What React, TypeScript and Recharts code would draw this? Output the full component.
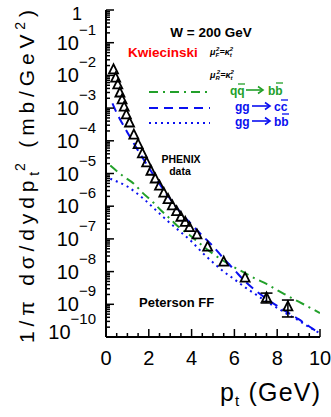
import React from 'react';
import { ComposedChart, Line, Scatter, ErrorBar, XAxis, YAxis } from 'recharts';

const FONT = '"Liberation Sans", Arial, Helvetica, sans-serif';
const GREEN = '#22a02a';
const BLUE = '#0a10f0';
const RED = '#ff0000';

// PHENIX non-photonic electrons (open triangles)
const phenixPt = [0.35, 0.45, 0.55, 0.65, 0.75, 0.85, 0.95, 1.1, 1.3, 1.5, 1.7, 1.9, 2.1, 2.3, 2.5, 2.7, 2.9, 3.1, 3.3, 3.5, 3.7, 3.9, 4.25, 4.75, 5.5, 6.5, 7.5, 8.5];
const phenixVal = [1.48e-2, 8.3e-3, 5.1e-3, 2.9e-3, 1.78e-3, 1.07e-3, 6.2e-4, 3.5e-4, 1.5e-4, 7.6e-5, 4.0e-5, 2.1e-5, 1.17e-5, 6.8e-6, 4.1e-6, 2.5e-6, 1.6e-6, 1.02e-6, 6.8e-7, 4.6e-7, 3.2e-7, 2.2e-7, 1.32e-7, 5.6e-8, 1.95e-8, 6.3e-9, 1.55e-9, 8.3e-10];
const phenixErrLo: (number | null)[] = [null, null, null, null, null, null, null, null, null, null, null, null, null, null, null, null, null, null, null, null, null, null, null, null, null, null, 0.45e-9, 0.42e-9];
const phenixErrHi: (number | null)[] = [null, null, null, null, null, null, null, null, null, null, null, null, null, null, null, null, null, null, null, null, null, null, null, null, null, null, 0.65e-9, 0.52e-9];

// q qbar -> b bbar (green dash-dot)
const qqbbPt = [0.2, 0.8, 1.3, 1.7, 2.2, 2.6, 3.0, 3.4, 3.9, 4.4, 5.0, 5.8, 6.4, 7.0, 7.5, 8.0, 8.5, 9.0, 9.5, 10];
const qqbbVal = [1.75e-5, 8.3e-6, 4.9e-6, 2.6e-6, 1.32e-6, 7.1e-7, 4.1e-7, 2.3e-7, 1.32e-7, 7.1e-8, 3.5e-8, 1.6e-8, 9.8e-9, 6.0e-9, 4.2e-9, 2.7e-9, 1.8e-9, 1.2e-9, 8.1e-10, 5.4e-10];

// g g -> c cbar (blue dashed)
const ggccPt = [0.3, 0.5, 0.75, 1.0, 1.25, 1.5, 1.75, 2.0, 2.5, 3.0, 3.5, 4.0, 4.5, 5.0, 5.5, 6.0, 6.5, 7.0, 7.5, 8.0, 8.5, 9.0, 9.5, 10];
const ggccVal = [1.4e-3, 7.1e-4, 3.5e-4, 1.8e-4, 9.5e-5, 5.0e-5, 2.75e-5, 1.5e-5, 4.8e-6, 1.66e-6, 6.3e-7, 2.75e-7, 1.26e-7, 6.0e-8, 2.5e-8, 1.12e-8, 5.0e-9, 2.6e-9, 1.48e-9, 8.9e-10, 5.6e-10, 3.5e-10, 2.1e-10, 1.26e-10];

// g g -> b bbar (blue dotted)
const ggbbPt = [0.2, 0.6, 1.0, 1.4, 1.8, 2.2, 2.6, 3.0, 3.5, 4.0, 4.5, 5.0, 5.5, 6.0, 6.5, 7.0, 7.5, 8.0, 8.5, 9.0, 9.5, 10];
const ggbbVal = [6.9e-6, 5.4e-6, 4.0e-6, 2.6e-6, 1.6e-6, 9.1e-7, 5.2e-7, 3.0e-7, 1.6e-7, 8.3e-8, 3.8e-8, 1.9e-8, 1.0e-8, 5.8e-9, 3.3e-9, 2.0e-9, 1.2e-9, 7.8e-10, 4.9e-10, 3.2e-10, 2.0e-10, 1.3e-10];

const xTickValues = [0, 0.5, 1, 1.5, 2, 2.5, 3, 3.5, 4, 4.5, 5, 5.5, 6, 6.5, 7, 7.5, 8, 8.5, 9, 9.5, 10];
const xLabels = [0, 2, 4, 6, 8, 10];
const decades = [-10, -9, -8, -7, -6, -5, -4, -3, -2, -1, 0];
const minorMult = [2, 3, 4, 5, 6, 7, 8, 9];

const yTicks: number[] = [];
decades.forEach((d) => {
  yTicks.push(Math.pow(10, d));
  if (d < 0) minorMult.forEach((m) => yTicks.push(m * Math.pow(10, d)));
});

const rows = (xs: number[], ys: number[]) => xs.map((pt, i) => ({ pt, val: ys[i] }));
const phenixRows = phenixPt.map((pt, i) => ({
  pt,
  val: phenixVal[i],
  err: phenixErrLo[i] != null ? [phenixErrLo[i], phenixErrHi[i]] : undefined,
}));

const isDecade = (v: number) => {
  const l = Math.log10(v);
  return Math.abs(l - Math.round(l)) < 1e-6;
};

const BottomTick = (props: any) => {
  const { x, y, payload } = props;
  const v = payload.value;
  const big = xLabels.includes(v);
  return (
    <g>
      <line x1={x} x2={x} y1={y} y2={y - (big ? 8 : 4)} stroke="#000" strokeWidth={1.5} />
      {big && (
        <text x={x} y={y + 28} textAnchor="middle" fontSize={20} fontFamily={FONT} fill="#000">
          {v}
        </text>
      )}
    </g>
  );
};

const TopTick = (props: any) => {
  const { x, y, payload } = props;
  const big = xLabels.includes(payload.value);
  return <line x1={x} x2={x} y1={y} y2={y + (big ? 8 : 4)} stroke="#000" strokeWidth={1.5} />;
};

const LeftTick = (props: any) => {
  const { x, y, payload } = props;
  const v = payload.value;
  const major = isDecade(v);
  const e = Math.round(Math.log10(v));
  let label = null;
  if (major && e === 0) {
    label = (
      <text x={x - 24} y={y + 10} textAnchor="end" fontSize={18} fontFamily={FONT} fill="#000">
        1
      </text>
    );
  } else if (major) {
    const shift = e === -10 ? -5 : 0;
    label = (
      <text x={x - 10} y={y + 7 + shift} textAnchor="end" fontSize={20} fontFamily={FONT} fill="#000">
        10
        <tspan dy={-15} fontSize={15}>
          {'\u2212' + -e}
        </tspan>
      </text>
    );
  }
  return (
    <g>
      <line x1={x} x2={x + (major ? 8 : 4)} y1={y} y2={y} stroke="#000" strokeWidth={1.5} />
      {label}
    </g>
  );
};

const RightTick = (props: any) => {
  const { x, y, payload } = props;
  const major = isDecade(payload.value);
  return <line x1={x} x2={x - (major ? 8 : 4)} y1={y} y2={y} stroke="#000" strokeWidth={1.5} />;
};

const Triangle = (props: any) => {
  const { cx, cy } = props;
  if (cx == null || cy == null) return null;
  return (
    <polygon
      points={`${cx},${cy - 5.5} ${cx - 4.5},${cy + 3.5} ${cx + 4.5},${cy + 3.5}`}
      fill="none"
      stroke="#000"
      strokeWidth={1.8}
      strokeLinejoin="miter"
    />
  );
};

const frame = { stroke: '#000', strokeWidth: 2 };

const Arrow = ({ x1, x2, y, color }: { x1: number; x2: number; y: number; color: string }) => (
  <g stroke={color} strokeWidth={1.6} fill="none">
    <line x1={x1} x2={x2} y1={y} y2={y} />
    <polyline points={`${x2 - 5},${y - 3.5} ${x2},${y} ${x2 - 5},${y + 3.5}`} />
  </g>
);

export default function App() {
  return (
    <div style={{ position: 'absolute', left: 0, top: 0, width: 331, height: 417, background: '#fff' }}>
      <ComposedChart width={331} height={417} margin={{ top: 10, right: 11, bottom: 0, left: 0 }}>
        <XAxis
          xAxisId="b"
          dataKey="pt"
          type="number"
          domain={[0, 10]}
          ticks={xTickValues}
          interval={0}
          height={80}
          tickSize={0}
          tickMargin={0}
          tickLine={false}
          tick={BottomTick}
          axisLine={frame}
          allowDataOverflow
        />
        <XAxis
          xAxisId="t"
          orientation="top"
          dataKey="pt"
          type="number"
          domain={[0, 10]}
          ticks={xTickValues}
          interval={0}
          height={0}
          tickSize={0}
          tickMargin={0}
          tickLine={false}
          tick={TopTick}
          axisLine={frame}
          allowDataOverflow
        />
        <YAxis
          yAxisId="l"
          dataKey="val"
          type="number"
          scale="log"
          domain={[1e-10, 1]}
          ticks={yTicks}
          interval={0}
          width={106}
          tickSize={0}
          tickMargin={0}
          tickLine={false}
          tick={LeftTick}
          axisLine={frame}
          allowDataOverflow
        />
        <YAxis
          yAxisId="r"
          orientation="right"
          dataKey="val"
          type="number"
          scale="log"
          domain={[1e-10, 1]}
          ticks={yTicks}
          interval={0}
          width={0}
          tickSize={0}
          tickMargin={0}
          tickLine={false}
          tick={RightTick}
          axisLine={frame}
          allowDataOverflow
        />
        <Line
          xAxisId="t"
          yAxisId="r"
          data={rows(qqbbPt, qqbbVal)}
          dataKey="val"
          type="monotone"
          stroke={GREEN}
          strokeWidth={2}
          strokeDasharray="9 5 2 5"
          dot={false}
          isAnimationActive={false}
        />
        <Line
          xAxisId="b"
          yAxisId="l"
          data={rows(ggccPt, ggccVal)}
          dataKey="val"
          type="monotone"
          stroke={BLUE}
          strokeWidth={2}
          strokeDasharray="9 6"
          dot={false}
          isAnimationActive={false}
        />
        <Line
          xAxisId="b"
          yAxisId="l"
          data={rows(ggbbPt, ggbbVal)}
          dataKey="val"
          type="monotone"
          stroke={BLUE}
          strokeWidth={2}
          strokeDasharray="2 4"
          dot={false}
          isAnimationActive={false}
        />
        <Scatter
          xAxisId="b"
          yAxisId="l"
          data={phenixRows}
          dataKey="val"
          shape={Triangle}
          isAnimationActive={false}
        >
          <ErrorBar dataKey="err" direction="y" width={6} stroke="#000" strokeWidth={1.6} isAnimationActive={false} />
        </Scatter>
      </ComposedChart>

      <svg
        width={331}
        height={417}
        style={{ position: 'absolute', left: 0, top: 0, pointerEvents: 'none' }}
        fontFamily={FONT}
      >
        {/* axis titles */}
        <text
          transform="translate(34,176.5) rotate(-90)"
          textAnchor="middle"
          fontSize={21}
          textLength={333}
          lengthAdjust="spacing"
          fill="#000"
        >
          1/π dσ/dydp
          <tspan fontSize={14} dy={5}>t</tspan>
          <tspan fontSize={14} dx={-4} dy={-14}>2</tspan>
          <tspan dy={9}> (mb/GeV</tspan>
          <tspan fontSize={14} dy={-9}>2</tspan>
          <tspan dy={9}>)</tspan>
        </text>
        <text x={220} y={401} fontSize={25} textLength={100} lengthAdjust="spacing" fill="#000">
          p<tspan fontSize={15} dy={5}>t</tspan>
          <tspan dy={-5}> (GeV)</tspan>
        </text>

        {/* annotations */}
        <text x={211} y={37} textAnchor="middle" fontSize={13.5} fontWeight="bold" fill="#000">
          W = 200 GeV
        </text>
        <text x={128} y={57} fontSize={13.5} fontWeight="bold" fill={RED}>
          Kwiecinski
        </text>
        <text x={210} y={55} fontSize={9} fontWeight="bold" fontStyle="italic" fill="#000">
          μ<tspan fontSize={6} dy={2}>F</tspan>
          <tspan fontSize={6} dx={-3} dy={-6}>2</tspan>
          <tspan dy={4}>=κ</tspan>
          <tspan fontSize={6} dy={2}>t</tspan>
          <tspan fontSize={6} dx={-2} dy={-6}>2</tspan>
        </text>
        <text x={210} y={78} fontSize={9} fontWeight="bold" fontStyle="italic" fill="#000">
          μ<tspan fontSize={6} dy={2}>R</tspan>
          <tspan fontSize={6} dx={-3} dy={-6}>2</tspan>
          <tspan dy={4}>=κ</tspan>
          <tspan fontSize={6} dy={2}>t</tspan>
          <tspan fontSize={6} dx={-2} dy={-6}>2</tspan>
        </text>

        {/* legend */}
        <line x1={149} x2={208} y1={92} y2={92} stroke={GREEN} strokeWidth={2} strokeDasharray="9 5 2 5" />
        <text x={230} y={95} fontSize={12} fontWeight="bold" fill={GREEN}>qq</text>
        <line x1={238} x2={245} y1={84} y2={84} stroke={GREEN} strokeWidth={1.3} />
        <Arrow x1={246} x2={263} y={90} color={GREEN} />
        <text x={268} y={95} fontSize={12} fontWeight="bold" fill={GREEN}>bb</text>
        <line x1={276} x2={283} y1={83} y2={83} stroke={GREEN} strokeWidth={1.3} />

        <line x1={149} x2={210} y1={108} y2={108} stroke={BLUE} strokeWidth={2} strokeDasharray="9 6" />
        <text x={235} y={111} fontSize={12} fontWeight="bold" fill={BLUE}>gg</text>
        <Arrow x1={252} x2={270} y={106} color={BLUE} />
        <text x={274} y={111} fontSize={12} fontWeight="bold" fill={BLUE}>cc</text>
        <line x1={281} x2={288} y1={100} y2={100} stroke={BLUE} strokeWidth={1.3} />

        <line x1={149} x2={210} y1={123} y2={123} stroke={BLUE} strokeWidth={2} strokeDasharray="2 4" />
        <text x={235} y={126} fontSize={12} fontWeight="bold" fill={BLUE}>gg</text>
        <Arrow x1={252} x2={270} y={121} color={BLUE} />
        <text x={274} y={126} fontSize={12} fontWeight="bold" fill={BLUE}>bb</text>
        <line x1={282} x2={289} y1={114} y2={114} stroke={BLUE} strokeWidth={1.3} />

        <text x={181} y={163} textAnchor="middle" fontSize={10.5} fontWeight="bold" fill="#000">PHENIX</text>
        <text x={180} y={175} textAnchor="middle" fontSize={10.5} fontWeight="bold" fill="#000">data</text>
        <text x={139} y={307} fontSize={13} fontWeight="bold" fill="#000">Peterson FF</text>
      </svg>
    </div>
  );
}
